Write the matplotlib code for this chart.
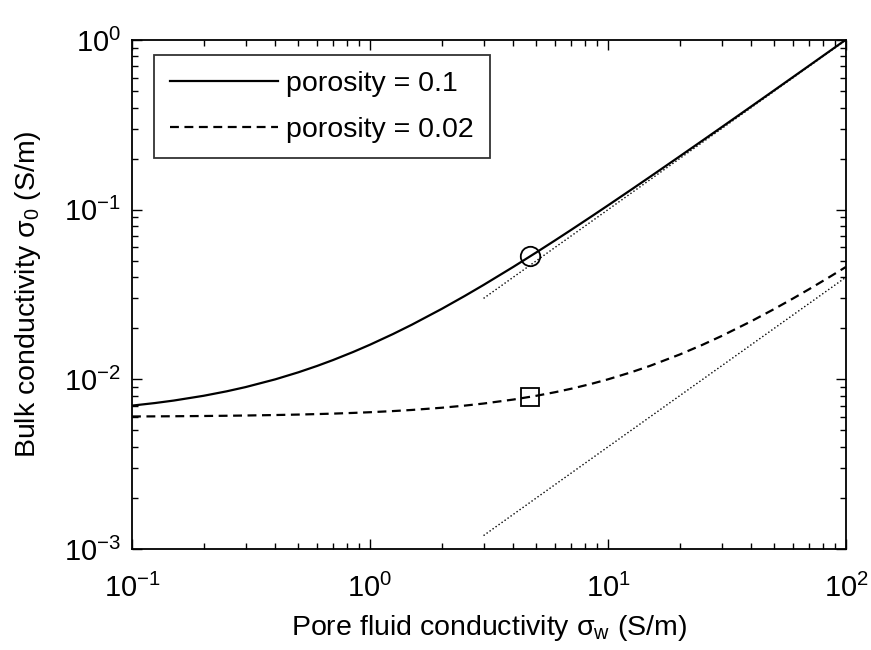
import matplotlib
matplotlib.use('Agg')
import matplotlib.pyplot as plt
import numpy as np

plt.rcParams['font.family'] = ['Liberation Sans', 'DejaVu Sans']
plt.rcParams['mathtext.fontset'] = 'custom'
plt.rcParams['mathtext.rm'] = 'Liberation Sans'
plt.rcParams['mathtext.it'] = 'Liberation Sans'

# values
sigma_w = [0.1, 0.125, 0.15, 0.2, 0.25, 0.3, 0.4, 0.5, 0.6, 0.7, 0.85, 1, 1.25, 1.5, 2,
           2.5, 3, 4, 5, 6, 7, 8.5, 10, 12.5, 15, 20, 25, 30, 40, 50, 60, 70, 85, 100]
bulk_phi10 = [0.0070, 0.00725, 0.0075, 0.0080, 0.0085, 0.0090, 0.0100, 0.0110, 0.0120,
              0.0130, 0.0145, 0.0160, 0.0185, 0.0210, 0.0260, 0.0310, 0.0360, 0.0460,
              0.0560, 0.0660, 0.0760, 0.0910, 0.106, 0.131, 0.156, 0.206, 0.256, 0.306,
              0.406, 0.506, 0.606, 0.706, 0.856, 1.006]
bulk_phi02 = [0.00604, 0.00605, 0.00606, 0.00608, 0.0061, 0.00612, 0.00616, 0.0062,
              0.00624, 0.00628, 0.00634, 0.0064, 0.0065, 0.0066, 0.0068, 0.0070, 0.0072,
              0.0076, 0.0080, 0.0084, 0.0088, 0.0094, 0.0100, 0.0110, 0.0120, 0.0140,
              0.0160, 0.0180, 0.0220, 0.0260, 0.0300, 0.0340, 0.0400, 0.0460]

# asymptotes (straight on log-log), end points only
asym_x = [3, 100]
asym_phi10 = [0.03, 1.0]
asym_phi02 = [0.0012, 0.04]

# marked points
mark_x = 4.7
mark_phi10 = 0.0530
mark_phi02 = 0.0079

fig = plt.figure(figsize=(8.71, 6.5), dpi=100)
ax = fig.add_axes([132/871, 1-549/650, (846-132)/871, (549-40)/650])

l1, = ax.loglog(sigma_w, bulk_phi10, 'k-', lw=1.6, label='porosity = 0.1')
l2, = ax.loglog(sigma_w, bulk_phi02, 'k--', lw=1.6, dashes=(4, 2.5), label='porosity = 0.02')
ax.loglog(asym_x, asym_phi10, 'k:', lw=1)
ax.loglog(asym_x, asym_phi02, 'k:', lw=1)
ax.plot(mark_x, mark_phi10, 'o', mfc='none', mec='k', ms=14, mew=1.3)
ax.plot(mark_x, mark_phi02, 's', mfc='none', mec='k', ms=12.5, mew=1.3)

ax.set_xlim(0.1, 100)
ax.set_ylim(1e-3, 1)
ax.tick_params(which='both', direction='in', top=True, right=True, labelsize=21)
ax.tick_params(which='major', length=7, width=1)
ax.tick_params(which='minor', length=4, width=1)
ax.tick_params(axis='x', pad=18)
ax.tick_params(axis='y', pad=8)
for s in ax.spines.values():
    s.set_linewidth(1.3)

ax.set_xlabel('Pore fluid conductivity σ$_w$ (S/m)', fontsize=20.5, labelpad=7)
ax.set_ylabel('Bulk conductivity σ$_0$ (S/m)', fontsize=20.5, labelpad=15)

leg = ax.legend(handles=[l1, l2], loc='upper left', fontsize=20.5, frameon=True,
                fancybox=False, edgecolor='k', handlelength=3.8, handletextpad=0.3,
                borderpad=0.55, labelspacing=0.7, borderaxespad=0,
                bbox_to_anchor=(0.0308, 0.9705))
leg.get_frame().set_linewidth(1.3)

fig.savefig('out.png', dpi=100)
